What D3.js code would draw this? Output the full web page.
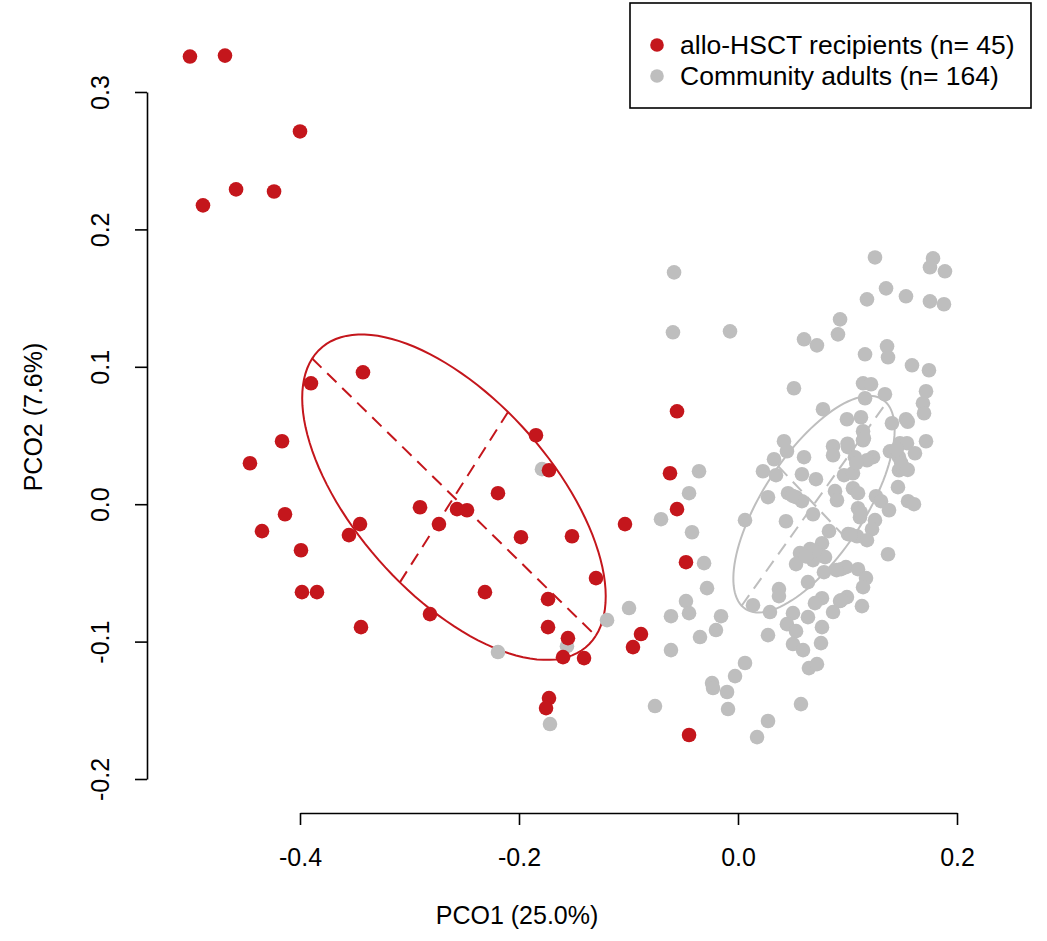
<!DOCTYPE html>
<html>
<head>
<meta charset="utf-8">
<script src="https://cdn.jsdelivr.net/npm/d3@7"></script>
<style>
  body { margin: 0; background: #fff; }
  svg { font-family: "Liberation Sans", Arial, sans-serif; }
</style>
</head>
<body>
<div id="graf1"></div>
<script>
// datos (PCO1, PCO2)
const hsctX = [-0.5005,-0.4685,-0.4,-0.4886,-0.4584,-0.4237,-0.3425,-0.39,-0.4164,-0.4457,
  -0.2904,-0.4137,-0.4347,-0.3452,-0.3553,-0.3991,-0.3982,-0.3845,-0.3443,-0.2813,
  -0.0557,-0.1845,-0.1726,-0.0621,-0.2192,-0.0557,-0.2566,-0.2475,-0.2731,-0.1032,
  -0.1982,-0.1516,-0.0475,-0.1297,-0.2311,-0.1735,-0.1735,-0.1553,-0.0886,-0.0959,
  -0.1598,-0.1406,-0.1726,-0.1753,-0.0447];
const hsctY = [0.3258,0.3265,0.2713,0.2175,0.2291,0.2276,0.096,0.088,0.0458,0.0298,
  -0.0022,-0.0073,-0.0196,-0.0145,-0.0225,-0.0335,-0.064,-0.064,-0.0895,-0.08,
  0.0676,0.0502,0.0247,0.0225,0.008,-0.0036,-0.0036,-0.0044,-0.0145,-0.0145,
  -0.024,-0.0233,-0.0422,-0.0538,-0.064,-0.0691,-0.0895,-0.0975,-0.0945,-0.104,
  -0.1113,-0.112,-0.1411,-0.1484,-0.168];

const commX = [-0.179,-0.0356,-0.0447,-0.0703,-0.042,-0.0995,-0.0475,-0.0612,-0.0447,-0.1196,
  -0.1562,-0.0347,-0.2192,-0.0612,-0.1717,-0.0758,-0.0584,-0.0594,-0.0073,0.0603,
  0.0511,0.042,0.0447,0.0329,0.0603,0.0228,0.0347,0.0584,0.1251,0.1781,
  0.1753,0.189,0.1352,0.1178,0.1534,0.1753,0.1881,0.0932,0.0913,0.0721,
  0.116,0.1361,0.137,0.1589,0.1744,0.1142,0.1215,0.116,0.1342,0.1717,
  0.1689,0.1699,0.0776,0.0995,0.1123,0.1142,0.1142,0.1406,0.1534,0.1717,
  0.1479,0.1543,0.1388,0.1616,0.147,0.147,0.1507,0.0868,0.0868,0.1005,
  0.1068,0.1233,0.1178,0.0712,0.0968,0.105,0.0886,0.105,0.1461,0.126,
  0.1553,0.1607,0.0274,0.0457,0.053,0.0584,0.0904,0.1096,0.1306,0.1379,
  0.1096,0.1114,0.0685,0.0438,0.1251,0.1224,0.0831,0.1005,0.1087,0.1178,
  0.0767,0.0566,0.0658,0.0721,0.0795,0.0685,0.053,0.137,0.0785,0.0941,
  0.0986,0.1096,0.1169,0.1142,0.0639,0.0374,0.0374,0.0767,0.0703,0.0932,
  0.0995,0.0868,0.1132,0.0292,0.0502,0.0639,0.0447,0.053,0.0767,-0.031,
  0.0064,-0.0283,-0.0155,-0.0201,0.0274,0.0137,0.0064,-0.0027,-0.0237,-0.0228,
  -0.01,-0.0091,0.0274,0.0174,0.0502,0.0594,0.0758,0.0648,0.0721,0.0575,
  0.1,0.108,0.149,0.155,0.112,0.07,0.062,0.09,0.115,0.145,0.05,0.103,0.094,0.155];
const commY = [0.0255,0.024,0.008,-0.0109,-0.0204,-0.0756,-0.0705,-0.0815,-0.0793,-0.0844,
  -0.1033,-0.0967,-0.1076,-0.1062,-0.16,-0.1469,0.1687,0.1251,0.1258,0.12,
  0.0844,0.0458,0.0385,0.0327,0.0342,0.024,0.0211,0.0218,0.1796,0.1789,
  0.1724,0.1695,0.1571,0.1491,0.1513,0.1476,0.1455,0.1345,0.1236,0.1156,
  0.1091,0.1149,0.1069,0.1011,0.0975,0.088,0.0873,0.0771,0.08,0.0822,
  0.0735,0.0662,0.0691,0.0618,0.0633,0.0531,0.0465,0.0589,0.0618,0.0458,
  0.0444,0.0444,0.0385,0.0371,0.0342,0.0247,0.0269,0.0422,0.0356,0.0415,
  0.0342,0.0342,0.032,0.0182,0.0211,0.0225,0.0095,0.0116,0.0124,0.0058,
  0.0022,0,0.0051,0.008,0.0051,0.0022,0.0029,0.008,0.0022,-0.0044,
  -0.0029,-0.0095,-0.0073,-0.0124,-0.0116,-0.0182,-0.0196,-0.0218,-0.0233,-0.0262,
  -0.0284,-0.0356,-0.0327,-0.0356,-0.0385,-0.0407,-0.0436,-0.0364,-0.0495,-0.0473,
  -0.0458,-0.0473,-0.0538,-0.0604,-0.0567,-0.0618,-0.0669,-0.0684,-0.072,-0.0705,
  -0.0676,-0.0785,-0.0742,-0.0785,-0.0793,-0.0822,-0.0873,-0.0924,-0.0895,-0.0429,
  -0.0116,-0.0611,-0.0815,-0.0916,-0.0953,-0.0735,-0.1156,-0.1251,-0.1302,-0.1338,
  -0.1367,-0.1491,-0.1578,-0.1695,-0.1018,-0.1062,-0.1011,-0.1193,-0.1164,-0.1455,
  0.044,0.03,0.03,0.06,-0.006,-0.034,-0.038,-0.048,0.048,0.04,0.006,-0.022,-0.07,0.025];

const groupNames = ["allo-HSCT recipients (n= 45)", "Community adults (n= 164)"];
const groupColors = ["#c4161c", "#bebebe"];

// elipses: centro, semieje mayor, semieje menor (unidades de datos)
const hsctEllipse = [[-0.2594, 0.0051], [0.1295, -0.1009], [0.0494, 0.062]];
const commEllipse = [[0.0694, 0.0], [0.0661, 0.0739], [0.0325, -0.0275]];

const xTicks = [-0.4, -0.2, 0.0, 0.2];
const yTicks = [-0.2, -0.1, 0.0, 0.1, 0.2, 0.3];
const xTitle = "PCO1 (25.0%)";
const yTitle = "PCO2 (7.6%)";

const width = 1047, height = 941;
const fontSize = 25;

const svg = d3.select("#graf1")
  .append("svg")
  .attr("width", width)
  .attr("height", height);

// escaladores
const x = d3.scaleLinear().domain([-0.4, 0.2]).range([300, 957]);
const y = d3.scaleLinear().domain([-0.2, 0.3]).range([779, 92]);

const fmt = (d) => d.toFixed(1);

// ejes
const xAxis = svg.append("g")
  .attr("transform", "translate(0,813)")
  .call(d3.axisBottom(x).tickValues(xTicks).tickSize(12).tickSizeOuter(0).tickFormat(fmt));

const yAxis = svg.append("g")
  .attr("transform", "translate(147,0)")
  .call(d3.axisLeft(y).tickValues(yTicks).tickSize(12).tickSizeOuter(0).tickFormat(fmt));

[xAxis, yAxis].forEach((a) => {
  a.selectAll("path, line").attr("stroke", "#000").attr("stroke-width", 1.6);
  a.selectAll("text").attr("font-size", fontSize).attr("fill", "#000")
    .attr("font-family", "Liberation Sans, Arial, sans-serif");
});
xAxis.selectAll("text").attr("y", 35);
yAxis.selectAll("text")
  .attr("transform", "rotate(-90)")
  .attr("x", 0)
  .attr("y", -38)
  .attr("dy", "0")
  .attr("text-anchor", "middle");

// titulos de los ejes
svg.append("text")
  .attr("x", 517).attr("y", 924)
  .attr("text-anchor", "middle")
  .attr("font-size", fontSize)
  .text(xTitle);

svg.append("text")
  .attr("transform", "translate(42,417) rotate(-90)")
  .attr("text-anchor", "middle")
  .attr("font-size", fontSize)
  .text(yTitle);

// elipses
const angles = d3.range(0, 121).map((i) => (i / 120) * 2 * Math.PI);
const ellipseLine = d3.line().x((d) => x(d[0])).y((d) => y(d[1]));

const drawEllipse = (e, color) => {
  const [c, a, b] = e;
  const pts = angles.map((t) => [
    c[0] + Math.cos(t) * a[0] + Math.sin(t) * b[0],
    c[1] + Math.cos(t) * a[1] + Math.sin(t) * b[1]
  ]);
  svg.append("path")
    .attr("d", ellipseLine(pts))
    .attr("fill", "none")
    .attr("stroke", color)
    .attr("stroke-width", 2);
  // ejes de la elipse
  [a, b].forEach((v) => {
    svg.append("path")
      .attr("d", ellipseLine([[c[0] - v[0], c[1] - v[1]], [c[0] + v[0], c[1] + v[1]]]))
      .attr("stroke", color)
      .attr("stroke-width", 2)
      .attr("stroke-dasharray", "13,8");
  });
};

drawEllipse(hsctEllipse, groupColors[0]);
drawEllipse(commEllipse, groupColors[1]);

// puntos
const commData = commX.map((d, i) => [d, commY[i]]);
const hsctData = hsctX.map((d, i) => [d, hsctY[i]]);

svg.append("g").selectAll("circle")
  .data(commData)
  .enter()
  .append("circle")
  .attr("cx", (d) => x(d[0]))
  .attr("cy", (d) => y(d[1]))
  .attr("r", 7.3)
  .attr("fill", groupColors[1]);

svg.append("g").selectAll("circle")
  .data(hsctData)
  .enter()
  .append("circle")
  .attr("cx", (d) => x(d[0]))
  .attr("cy", (d) => y(d[1]))
  .attr("r", 7.3)
  .attr("fill", groupColors[0]);

// leyenda
const legend = svg.append("g").attr("transform", "translate(630,3)");
legend.append("rect")
  .attr("width", 401).attr("height", 105)
  .attr("fill", "#fff")
  .attr("stroke", "#000")
  .attr("stroke-width", 1.6);

const items = legend.selectAll(".item")
  .data(groupNames)
  .enter()
  .append("g")
  .attr("transform", (d, i) => `translate(0,${42 + i * 31})`);

items.append("circle")
  .attr("cx", 27)
  .attr("r", 6.8)
  .attr("fill", (d, i) => groupColors[i]);

items.append("text")
  .attr("x", 50)
  .attr("dy", "0.35em")
  .attr("font-size", 26.5)
  .text((d) => d);
</script>
</body>
</html>
